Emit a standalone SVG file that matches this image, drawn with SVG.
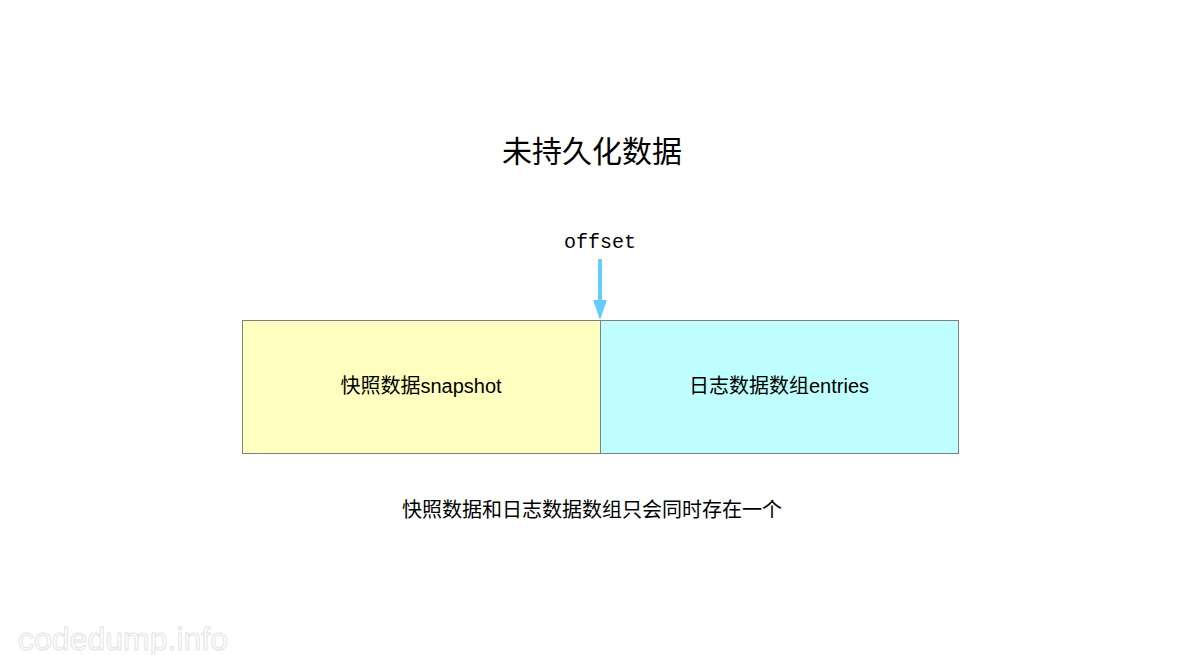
<svg xmlns="http://www.w3.org/2000/svg" width="1200" height="655" viewBox="0 0 1200 655">
<style>
.t{font-family:"Liberation Sans","Noto Sans CJK SC",sans-serif;fill:#000;text-anchor:middle}
.box{stroke:#808080;stroke-width:1}
</style>
<rect width="1200" height="655" fill="#fff"/>
<text class="t" x="592" y="162" font-size="30">未持久化数据</text>
<text x="600" y="248" font-size="20" font-family="Liberation Mono,monospace" text-anchor="middle">offset</text>
<g id="connectors"><path d="M600,259 V300" stroke="#66ccff" stroke-width="4" fill="none"/><path d="M593,300 L607,300 L600,320 z" fill="#66ccff"/></g>
<g id="snapshot"><rect class="box" x="242.500" y="320.500" width="358" height="133" fill="#ffffc0"/><text class="t" x="421" y="393" font-size="20">快照数据snapshot</text></g>
<g id="entries"><rect class="box" x="600.500" y="320.500" width="358" height="133" fill="#c0ffff"/><text class="t" x="779" y="393" font-size="20">日志数据数组entries</text></g>
<text class="t" x="592" y="517" font-size="20">快照数据和日志数据数组只会同时存在一个</text>
<text x="18" y="650" font-size="32" font-family="Liberation Sans,sans-serif" fill="none" stroke="#e4e4e4" stroke-width="1">codedump.info</text>
</svg>
